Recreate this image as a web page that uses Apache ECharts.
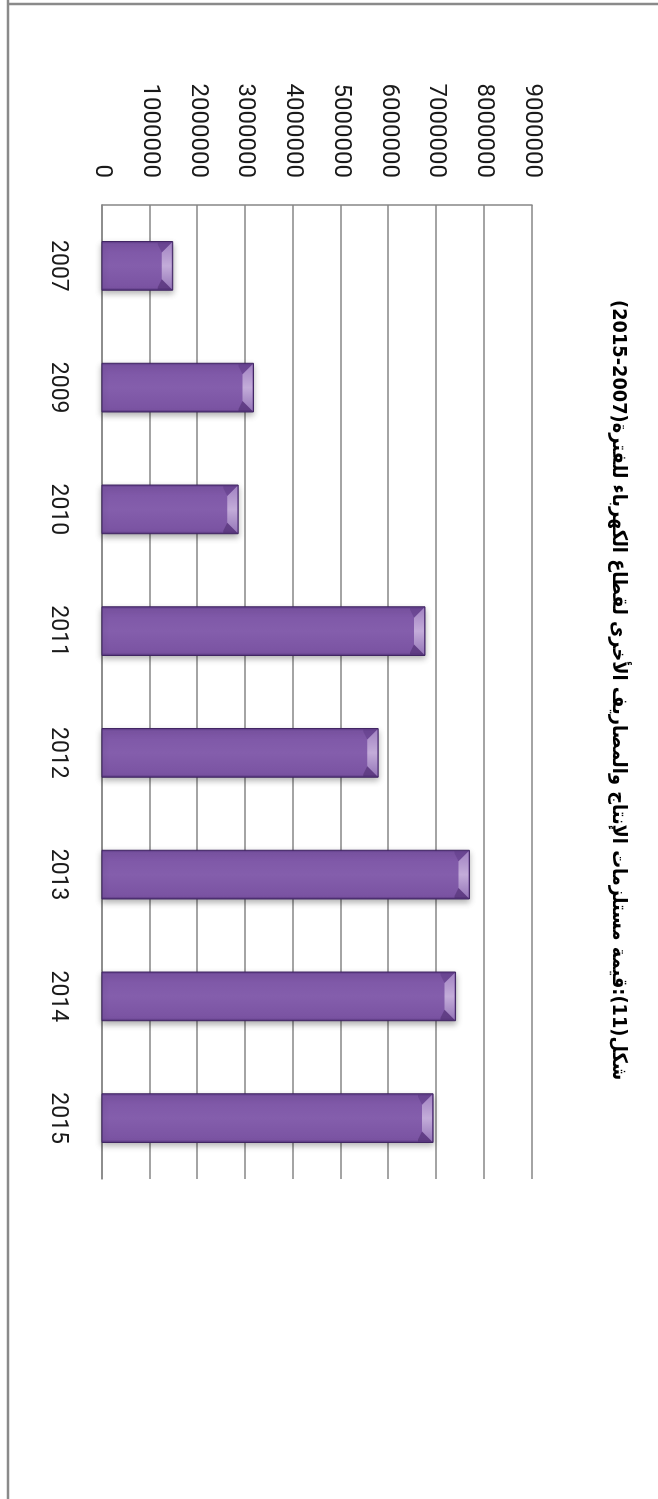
<!DOCTYPE html>
<html>
<head>
<meta charset="utf-8">
<script src="https://cdn.jsdelivr.net/npm/echarts@6/dist/echarts.min.js"></script>
<style>
  html, body { margin: 0; padding: 0; background: #fff; overflow: hidden; }
  #wrap { position: absolute; left: 0; top: 0; width: 1499px; height: 658px;
          transform-origin: 0 0; transform: translateX(658px) rotate(90deg); }
  #chart { width: 1499px; height: 658px; }
</style>
</head>
<body>
<div id="wrap"><div id="chart" dir="rtl"></div></div>
<script>
const titleText = 'شكل(11):قيمة مستلزمات الإنتاج والمصاريف الأخرى لقطاع الكهرباء للفترة(2007-2015)';
const categories = ['2007', '2009', '2010', '2011', '2012', '2013', '2014', '2015'];
const values = [1480000, 3170000, 2850000, 6760000, 5780000, 7690000, 7400000, 6930000];
const valueMin = 0;
const valueMax = 9000000;
const valueStep = 1000000;

const chart = echarts.init(document.getElementById('chart'), null, { renderer: 'canvas', width: 1499, height: 658 });

function renderBar(params, api) {
  const cat = api.value(0);
  const val = api.value(1);
  const top = api.coord([cat, val]);
  const base = api.coord([cat, 0]);
  const band = api.size([1, 0])[0];
  const w = band * 0.4;
  const x0 = top[0] - w / 2, x1 = top[0] + w / 2;
  const y0 = top[1], y1 = base[1];
  const d = Math.min(11, (y1 - y0) / 2);
  const e = 3;
  const body = new echarts.graphic.LinearGradient(0, 0, 1, 0, [
    { offset: 0, color: '#5a3884' },
    { offset: 0.06, color: '#7d56a6' },
    { offset: 0.5, color: '#845eac' },
    { offset: 0.94, color: '#7a53a2' },
    { offset: 1, color: '#4e2e74' }
  ]);
  return {
    type: 'group',
    children: [
      { type: 'rect', shape: { x: x0, y: y0, width: w, height: y1 - y0 },
        style: { fill: body, stroke: '#3f2462', lineWidth: 1,
                 shadowBlur: 6, shadowOffsetX: 3, shadowOffsetY: 0, shadowColor: 'rgba(0,0,0,0.3)' } },
      { type: 'polygon', shape: { points: [[x0 + 1, y0 + 1], [x1 - 1, y0 + 1], [x1 - d, y0 + d], [x0 + d, y0 + d]] },
        style: { fill: new echarts.graphic.LinearGradient(0, 0, 1, 0, [
          { offset: 0, color: '#a283c2' }, { offset: 0.5, color: '#c3acd9' }, { offset: 1, color: '#9576b8' }]) } },
      { type: 'polygon', shape: { points: [[x0 + 1, y0 + 1], [x0 + d, y0 + d], [x0 + e, y0 + d + 4], [x0 + 1, y0 + d + 4]] },
        style: { fill: 'rgba(80,45,120,0.35)' } },
      { type: 'polygon', shape: { points: [[x1 - 1, y0 + 1], [x1 - d, y0 + d], [x1 - e, y0 + d + 4], [x1 - 1, y0 + d + 4]] },
        style: { fill: 'rgba(60,30,90,0.4)' } }
    ]
  };
}

chart.setOption({
  animation: false,
  backgroundColor: '#ffffff',
  grid: { left: 205, right: 320, top: 126, bottom: 102, containLabel: false },
  xAxis: {
    type: 'category',
    data: categories,
    axisLine: { show: true, lineStyle: { color: '#868686', width: 1.5 } },
    axisTick: { show: false },
    axisLabel: { margin: 32, color: '#1a1a1a', fontSize: 23, fontFamily: 'Roboto', lineHeight: 24 },
    splitLine: { show: false }
  },
  yAxis: {
    type: 'value',
    min: valueMin, max: valueMax, interval: valueStep,
    axisLine: { show: true, lineStyle: { color: '#868686', width: 1.5 } },
    axisTick: { show: false },
    axisLabel: { margin: 27, color: '#1a1a1a', fontSize: 24, fontFamily: 'Roboto', formatter: v => String(v) },
    splitLine: { show: true, lineStyle: { color: '#868686', width: 1.5 } }
  },
  series: [{
    type: 'custom',
    renderItem: renderBar,
    encode: { x: 0, y: 1 },
    data: values.map((v, i) => [i, v])
  }],
  graphic: [
    { type: 'text', x: 300, y: 40, scaleX: 0.89,
      style: { text: titleText, align: 'left', verticalAlign: 'middle',
               font: 'bold 20px "DejaVu Sans", sans-serif', fill: '#000' } },
    { type: 'line', shape: { x1: 0, y1: 650, x2: 1499, y2: 650 }, style: { stroke: '#8a8a8a', lineWidth: 2.5 } },
    { type: 'line', shape: { x1: 4, y1: 0, x2: 4, y2: 651 }, style: { stroke: '#8a8a8a', lineWidth: 2.5 } }
  ]
});
</script>
</body>
</html>
